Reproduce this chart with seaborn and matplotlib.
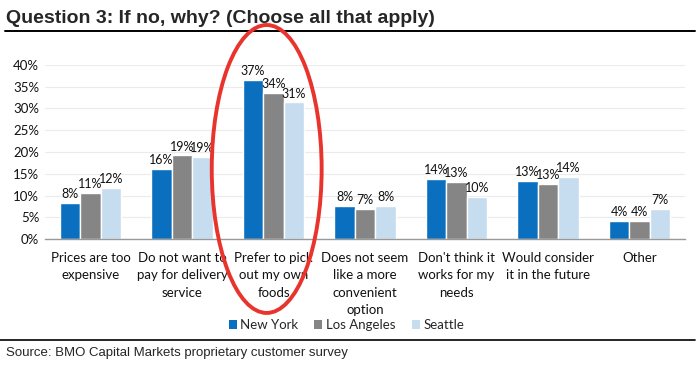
import matplotlib

matplotlib.use("Agg")
import matplotlib.pyplot as plt  # noqa: E402
import pandas as pd  # noqa: E402
import seaborn as sns  # noqa: E402
from matplotlib.lines import Line2D  # noqa: E402
from matplotlib.patches import Ellipse, Patch  # noqa: E402

categories = [
    "Prices are too\nexpensive",
    "Do not want to\npay for delivery\nservice",
    "Prefer to pick\nout my own\nfoods",
    "Does not seem\nlike a more\nconvenient\noption",
    "Don't think it\nworks for my\nneeds",
    "Would consider\nit in the future",
    "Other",
]
cities = ["New York", "Los Angeles", "Seattle"]
new_york = [8.4, 16.2, 36.6, 7.6, 13.9, 13.3, 4.2]
los_angeles = [10.6, 19.2, 33.6, 7.0, 13.1, 12.6, 4.2]
seattle = [11.7, 18.9, 31.4, 7.6, 9.7, 14.3, 6.9]
y_ticks = [0, 5, 10, 15, 20, 25, 30, 35, 40]

colors = ["#0A6FBF", "#858585", "#C6DDF0"]

df = pd.DataFrame(
    {
        "reason": categories * 3,
        "city": [c for c in cities for _ in categories],
        "pct": new_york + los_angeles + seattle,
    }
)

sns.set_style("white")
plt.rcParams["font.family"] = ["Lato", "DejaVu Sans"]

fig = plt.figure(figsize=(7, 3.73), dpi=100)
ax = fig.add_axes([0.064, 0.359, 0.915, 0.467])

sns.barplot(
    data=df,
    x="reason",
    y="pct",
    hue="city",
    order=categories,
    hue_order=cities,
    palette=colors,
    width=0.67,
    saturation=1,
    legend=False,
    ax=ax,
)

for container in ax.containers:
    ax.bar_label(
        container,
        labels=[f"{round(v)}%" for v in container.datavalues],
        padding=2,
        fontsize=9,
        color="#111111",
    )

ax.set_ylim(0, 40)
ax.set_yticks(y_ticks)
ax.set_yticklabels([f"{t}%" for t in y_ticks], fontsize=9.5, color="#111111")
ax.yaxis.grid(True, color="#EBEBEB", linewidth=0.8)
ax.set_axisbelow(True)
ax.set_xlim(-0.5, len(categories) - 0.5)
ax.set_xticks(range(len(categories)))
ax.set_xticklabels(categories, fontsize=9.5, color="#111111", linespacing=1.55)
ax.set_xticks([i - 0.5 for i in range(len(categories) + 1)], minor=True)
ax.tick_params(axis="x", which="major", length=0, pad=9)
ax.tick_params(axis="x", which="minor", length=4, color="#999999", width=0.8)
ax.tick_params(axis="y", length=0, pad=4)
ax.set_xlabel("")
ax.set_ylabel("")
for side in ["top", "right", "left"]:
    ax.spines[side].set_visible(False)
ax.spines["bottom"].set_color("#999999")
ax.spines["bottom"].set_linewidth(1)

handles = [Patch(facecolor=c, edgecolor="none") for c in colors]
fig.legend(
    handles,
    cities,
    loc="center",
    bbox_to_anchor=(0.495, 0.128),
    ncol=3,
    frameon=False,
    fontsize=9.5,
    handlelength=0.6,
    handleheight=0.6,
    handletextpad=0.3,
    columnspacing=1.2,
)

fig.text(
    0.008,
    0.950,
    "Question 3: If no, why? (Choose all that apply)",
    fontsize=14,
    fontweight="bold",
    family=["Liberation Sans Narrow", "Liberation Sans", "DejaVu Sans"],
    va="center",
    ha="left",
)
fig.add_artist(
    Line2D([0.007, 0.993], [0.918, 0.918], transform=fig.transFigure,
           color="black", linewidth=1.4)
)
fig.add_artist(
    Line2D([0.0, 0.993], [0.089, 0.089], transform=fig.transFigure,
           color="black", linewidth=1.2)
)
fig.text(
    0.008,
    0.053,
    "Source: BMO Capital Markets proprietary customer survey",
    fontsize=9.5,
    family=["Liberation Sans", "DejaVu Sans"],
    va="center",
    ha="left",
)

fig.add_artist(
    Ellipse((0.381, 0.547), 0.157, 0.772, transform=fig.transFigure,
            fill=False, edgecolor="#E8342C", linewidth=2.8, zorder=10)
)

fig.savefig("out.png", dpi=100)
